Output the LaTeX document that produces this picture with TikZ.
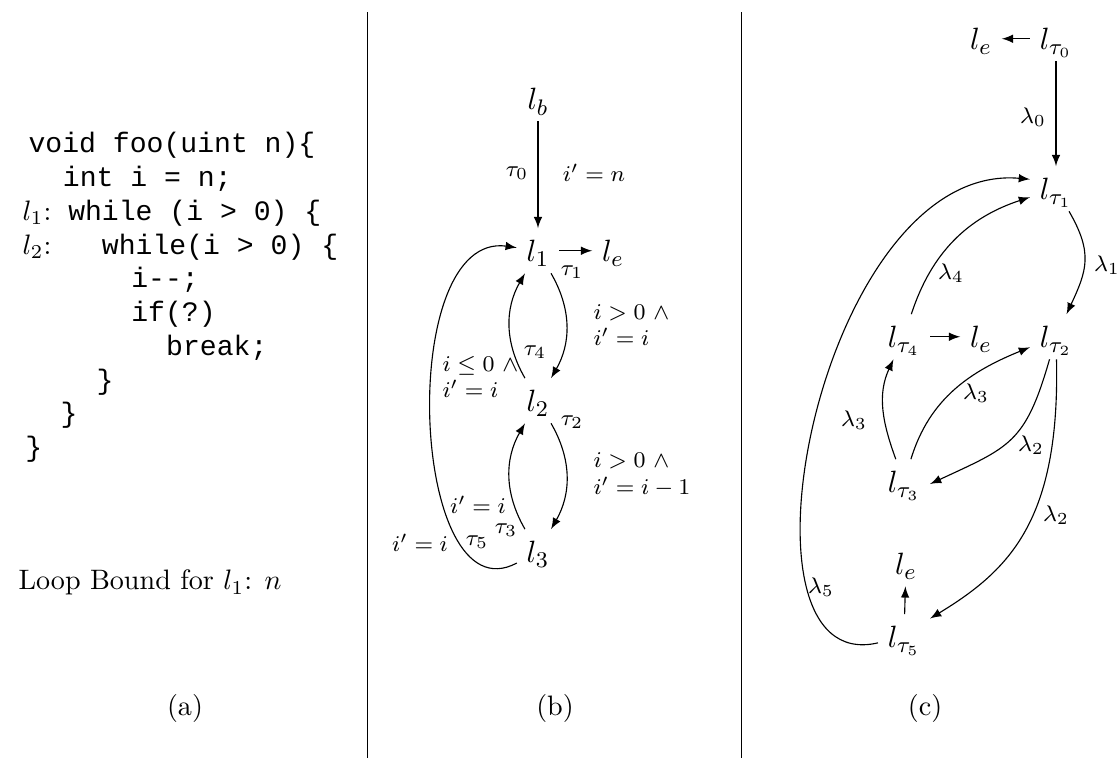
\documentclass[tikz,border=0pt]{standalone}
\usepackage{fontspec}
\setmonofont{Liberation Mono}

\begin{document}
\begin{tikzpicture}[
    >=latex,
    loc/.style={font=\fontsize{11}{13}\selectfont, anchor=base, text height=8.5pt, text depth=0.5pt},
    lbl/.style={font=\footnotesize, inner sep=1pt},
    cond/.style={font=\footnotesize, anchor=west, align=left, inner sep=0pt},
    code/.style={font=\ttfamily, anchor=base west, inner sep=0pt},
    sep/.style={line width=0.3pt}
  ]
  \useasboundingbox (0,0) rectangle (14,9.475);
  \draw[sep] (4.59,0) -- (4.59,9.325);
  \draw[sep] (9.2625,0) -- (9.2625,9.325);

  % (a) the program
  \foreach \x/\i/\txt in {%
    0.35/0/{void foo(uint n)\{},
    0.78/1/{int i = n;},
    0.275/2/{$l_1${\rmfamily:}\ while (i > 0) \{},
    0.275/3/{$l_2${\rmfamily:}\ \ \ while(i > 0) \{},
    1.635/4/{i-{}-;},
    1.635/5/{if(?)},
    2.07/6/{break;},
    1.2/7/{\}},
    0.75/8/{\}},
    0.31/9/{\}}%
  }{
    \node[code] (c\i) at (\x, 7.5625-0.4217*\i) {\txt};
  }
  \node[anchor=base west, inner sep=0pt] (bound) at (0.225,2.1) {Loop Bound for $l_1$: $n$};
  \node (capa) at (2.3125,0.625) {(a)};

  % (b) transition system
  \node[loc] (lb) at (6.725,8.1) {$l_b$};
  \node[loc] (l1) at (6.725,6.2) {$l_1$};
  \node[loc] (le1) at (7.6625,6.2) {$l_e$};
  \node[loc] (l2) at (6.725,4.325) {$l_2$};
  \node[loc] (l3) at (6.725,2.4375) {$l_3$};

  \draw[->] (lb) -- (l1);
  \draw[->] (l1) -- (le1);
  \draw[->] (l1) to[out=-60,in=60] (l2);
  \draw[->] (l2) to[out=120,in=-120] (l1);
  \draw[->] (l2) to[out=-60,in=60] (l3);
  \draw[->] (l3) to[out=120,in=-120] (l2);
  \draw[->] (l3) .. controls (5.125,1.725) and (4.9375,6.6) .. (l1);

  \node[lbl] (t0) at (6.4625,7.3125) {$\tau_0$};
  \node[lbl] (g0) at (7.425,7.3125) {$i' = n$};
  \node[lbl] (t1) at (7.15,6.075) {$\tau_1$};
  \node[cond] (g1) at (7.4125,5.4125) {$i > 0\ \wedge$\\$i' = i$};
  \node[lbl] (t4) at (6.6875,5.075) {$\tau_4$};
  \node[cond] (g4) at (5.525,4.7625) {$i \leq 0\ \wedge$\\$i' = i$};
  \node[lbl] (t2) at (7.15,4.2) {$\tau_2$};
  \node[cond] (g2) at (7.4125,3.5375) {$i > 0\ \wedge$\\$i' = i - 1$};
  \node[lbl] (g3) at (5.975,3.1625) {$i' = i$};
  \node[lbl] (t3) at (6.325,2.85) {$\tau_3$};
  \node[lbl] (g5) at (5.25,2.6875) {$i' = i$};
  \node[lbl] (t5) at (5.9625,2.7) {$\tau_5$};
  \node (capb) at (6.9375,0.625) {(b)};

  % (c) graph of transitions
  \node[loc] (let) at (12.2625,8.85) {$l_e$};
  \node[loc] (lt0) at (13.2,8.85) {$l_{\tau_0}$};
  \node[loc] (lt1) at (13.2,6.975) {$l_{\tau_1}$};
  \node[loc] (lt4) at (11.3,5.125) {$l_{\tau_4}$};
  \node[loc] (lem) at (12.2625,5.125) {$l_e$};
  \node[loc] (lt2) at (13.2,5.125) {$l_{\tau_2}$};
  \node[loc] (lt3) at (11.3,3.3125) {$l_{\tau_3}$};
  \node[loc] (leb) at (11.325,2.2875) {$l_e$};
  \node[loc] (lt5) at (11.3,1.375) {$l_{\tau_5}$};

  \draw[->] (lt0) -- (let);
  \draw[->] (lt0) -- (lt1);
  \draw[->] (lt1) to[out=-60,in=65,looseness=1.2] (lt2);
  \draw[->] (lt4) to[out=72,in=-162] (lt1);
  \draw[->] (lt4) -- (lem);
  \draw[->] (lt3) to[out=110,in=-115] (lt4);
  \draw[->] (lt3) to[out=73,in=-158] (lt2);
  \draw[->] (lt2) to[out=-106,in=25,looseness=1.3] (lt3.-5);
  \draw[->] (lt2) .. controls (13.25,2.975) and (12.625,2.35) .. (lt5.35);
  \draw[->] (lt5) -- (leb);
  \draw[->] (lt5) .. controls (9,0.975) and (10.25,7.475) .. (lt1.160);

  \node[lbl] (m0) at (12.9125,8.0125) {$\lambda_0$};
  \node[lbl] (m1) at (13.8375,6.1625) {$\lambda_1$};
  \node[lbl] (m4) at (11.8875,6.0625) {$\lambda_4$};
  \node[lbl] (m3a) at (10.675,4.225) {$\lambda_3$};
  \node[lbl] (m3b) at (12.2,4.5625) {$\lambda_3$};
  \node[lbl] (m2a) at (12.8875,3.9125) {$\lambda_2$};
  \node[lbl] (m2b) at (13.2,3.0375) {$\lambda_2$};
  \node[lbl] (m5) at (10.2625,2.1375) {$\lambda_5$};
  \node (capc) at (11.5625,0.625) {(c)};
\end{tikzpicture}
\end{document}
